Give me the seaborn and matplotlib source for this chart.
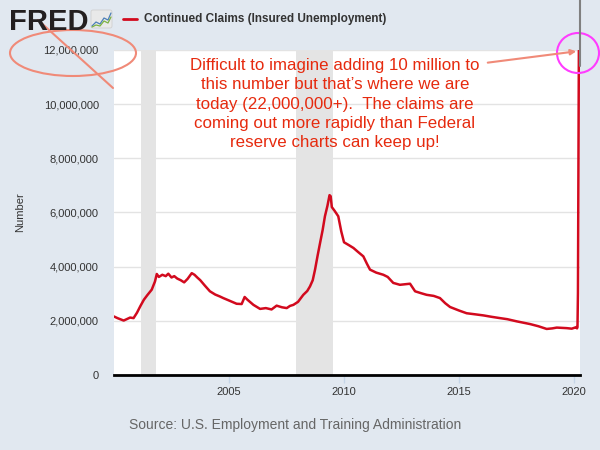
import matplotlib
matplotlib.use("Agg")
import matplotlib.pyplot as plt
from matplotlib.patches import Ellipse, FancyBboxPatch
import numpy as np
import pandas as pd
import seaborn as sns

# continued claims, millions
years = [2000.00, 2000.15, 2000.30, 2000.42, 2000.55, 2000.70, 2000.85,
         2001.00, 2001.15, 2001.30, 2001.45, 2001.64, 2001.78, 2001.86, 2001.95,
         2002.10, 2002.25, 2002.36, 2002.50, 2002.62, 2002.75, 2002.90,
         2003.05, 2003.20, 2003.38, 2003.50, 2003.62, 2003.75, 2003.95,
         2004.17, 2004.40, 2004.60, 2004.75, 2005.00, 2005.33, 2005.55, 2005.68, 2005.80,
         2006.06, 2006.35, 2006.60, 2006.85, 2007.07, 2007.30, 2007.51, 2007.65, 2007.80,
         2008.00, 2008.23, 2008.40, 2008.52, 2008.64, 2008.74, 2008.85, 2008.96,
         2009.07, 2009.17, 2009.28, 2009.37, 2009.42, 2009.47, 2009.60, 2009.75, 2009.88,
         2010.00, 2010.20, 2010.41, 2010.60, 2010.84, 2011.00, 2011.13, 2011.40, 2011.71, 2011.90,
         2012.14, 2012.43, 2012.87, 2013.09, 2013.35, 2013.59, 2013.90,
         2014.17, 2014.40, 2014.61, 2015.00, 2015.33, 2015.70, 2016.06, 2016.40, 2016.78,
         2017.10, 2017.51, 2017.80, 2018.09, 2018.45, 2018.81, 2019.05, 2019.25, 2019.68, 2019.90,
         2020.11, 2020.13, 2020.15, 2020.17, 2020.19, 2020.21]
claims = [2.16, 2.10, 2.05, 2.01, 2.06, 2.12, 2.10,
          2.30, 2.55, 2.78, 2.95, 3.15, 3.45, 3.73, 3.62,
          3.70, 3.65, 3.74, 3.60, 3.65, 3.56, 3.50,
          3.42, 3.55, 3.76, 3.70, 3.60, 3.50, 3.30,
          3.09, 2.97, 2.90, 2.84, 2.75, 2.63, 2.62, 2.88, 2.78,
          2.59, 2.44, 2.47, 2.42, 2.56, 2.50, 2.47, 2.55, 2.59,
          2.70, 2.96, 3.10, 3.27, 3.50, 3.89, 4.40, 4.88,
          5.35, 5.86, 6.25, 6.64, 6.60, 6.20, 6.05, 5.86, 5.30,
          4.90, 4.80, 4.69, 4.55, 4.38, 4.10, 3.89, 3.78, 3.70, 3.62,
          3.40, 3.33, 3.37, 3.09, 3.02, 2.96, 2.92,
          2.84, 2.65, 2.51, 2.38, 2.28, 2.24, 2.20, 2.15, 2.10,
          2.06, 1.98, 1.93, 1.88, 1.80, 1.70, 1.72, 1.75, 1.73, 1.71,
          1.77, 1.72, 1.78, 3.03, 7.45, 11.98]

rec_start = [2001.17, 2007.92]
rec_end = [2001.83, 2009.50]

yticks = [0, 2, 4, 6, 8, 10, 12]
xticks = [2005, 2010, 2015, 2020]

BG = "#e1e8f0"
RED = "#d20a1e"
SALMON = "#f08a78"

sns.set_theme(style="white")
plt.rcParams["font.family"] = ["Liberation Sans", "DejaVu Sans"]

fig = plt.figure(figsize=(6, 4.5), dpi=100, facecolor=BG)
ax = fig.add_axes([0.19, 0.1667, 0.7767, 0.7222])
ax.set_facecolor("white")

for s, e in zip(rec_start, rec_end):
    ax.axvspan(s, e, color="#e4e4e4", lw=0, zorder=1)

df = pd.DataFrame({"year": years, "claims": claims})
sns.lineplot(data=df, x="year", y="claims", color=RED, lw=1.8, ax=ax, zorder=3)

ax.set_xlim(2000.0, 2020.26)
ax.set_ylim(0, 12)
ax.set_yticks(yticks)
ax.set_yticklabels([f"{v * 1000000:,.0f}" for v in yticks])
ax.set_xticks(xticks)
ax.set_xticklabels([str(x) for x in xticks])
ax.yaxis.grid(True, color="#e3e3e3", lw=1, zorder=0)
ax.set_axisbelow(True)
ax.set_xlabel("")
ax.set_ylabel("")
for side in ["top", "left", "right"]:
    ax.spines[side].set_visible(False)
ax.spines["bottom"].set_color("black")
ax.spines["bottom"].set_linewidth(2)
ax.tick_params(axis="y", length=0, pad=11, labelsize=8, labelcolor="#333333")
ax.tick_params(axis="x", length=6, width=1, color="#c5d5e8", direction="out",
               pad=3, labelsize=8, labelcolor="#333333", bottom=True)

fig.text(20 / 600, 1 - 212 / 450, "Number", rotation=90, ha="center", va="center",
         fontsize=8, color="#333333")

# overlay for header and the hand drawn marks
ov = fig.add_axes([0, 0, 1, 1])
ov.set_xlim(0, 600)
ov.set_ylim(450, 0)
ov.axis("off")
ov.patch.set_alpha(0)

ov.text(9, 30, "FRED", fontsize=21, fontweight="heavy", color="#231f20",
        ha="left", va="baseline")
ov.add_patch(FancyBboxPatch((91, 10), 21, 18, boxstyle="round,pad=0,rounding_size=2",
                            fc="#e9e9e9", ec="#d0d0d0", lw=0.6))
ov.plot([92, 96, 100, 104, 108, 111], [26, 22, 24, 18, 20, 13], color="#4c7fb8", lw=0.9)
ov.plot([92, 96, 100, 104, 108, 111], [27, 25, 26, 21, 23, 17], color="#7cb342", lw=0.9)

ov.plot([123, 137], [19, 19], color=RED, lw=2)
ov.text(144, 19, "Continued Claims (Insured Unemployment)", fontsize=8.5,
        fontweight="bold", color="#333333", ha="left", va="center")

ov.add_patch(Ellipse((73, 53), 126, 46, fill=False, ec=SALMON, lw=1.5))
ov.plot([38, 113], [20, 88], color=SALMON, lw=1.5)
ov.annotate("", xy=(579, 51), xytext=(485, 63),
            arrowprops=dict(arrowstyle="-|>", color=SALMON, lw=1.5, mutation_scale=8))
ov.add_patch(Ellipse((578, 53), 42, 40, fill=False, ec="#ff3cff", lw=1.5))
ov.plot([580, 580], [0, 66], color="#808080", lw=1.5)

note = ("Difficult to imagine adding 10 million to\n"
        "this number but that\u2019s where we are\n"
        "today (22,000,000+).  The claims are\n"
        "coming out more rapidly than Federal\n"
        "reserve charts can keep up!")
ov.text(335, 104, note, ha="center", va="center", color="#e62a0e",
        fontsize=12.2, linespacing=1.35)

ov.text(295, 425, "Source: U.S. Employment and Training Administration",
        ha="center", va="center", color="#666666", fontsize=10)

fig.savefig("out.png", dpi=100, facecolor=BG)
